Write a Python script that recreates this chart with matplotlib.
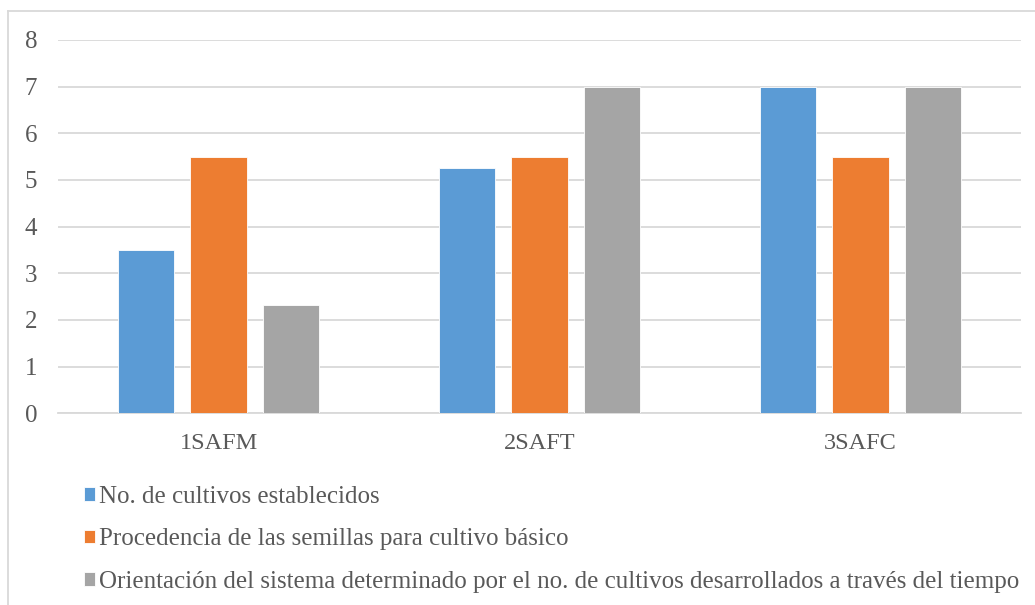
import numpy as np
import matplotlib.pyplot as plt
import matplotlib
from matplotlib.lines import Line2D

DPI = 100
matplotlib.rcParams.update(
    {
        'figure.dpi': DPI,
        'figure.facecolor': 'white',
        'font.family': ['Liberation Serif', 'DejaVu Serif'],
        'font.size': 18,
        'text.color': '#595959',
        'xtick.color': '#595959',
        'ytick.color': '#595959',
    }
)

categories = ['1SAFM', '2SAFT', '3SAFC']
series = ['No. de cultivos establecidos',
          'Procedencia de las semillas para cultivo básico',
          'Orientación del sistema determinado por el no. de cultivos desarrollados a través del tiempo']
cultivos = [3.5, 5.25, 7]
semillas = [5.5, 5.5, 5.5]
orientacion = [2.33, 7, 7]

colors = ['#5B9BD5', '#ED7D31', '#A5A5A5']

fig = plt.figure(figsize=(10.35, 6.05))
ax = fig.add_axes([58 / 1035, 1 - 413.3 / 605, (1021 - 58) / 1035, (413.3 - 40) / 605])

x = np.arange(len(categories))
width = 0.175
offsets = [-0.225, 0, 0.225]
for vals, off, c, name in zip([cultivos, semillas, orientacion], offsets, colors, series):
    ax.bar(x + off, vals, width, color=c, edgecolor='white', linewidth=0.6, label=name, zorder=3)

ax.set_xlim(-0.5, 2.5)
ax.set_ylim(0, 8)
ax.set_yticks(range(0, 9))
ax.yaxis.grid(True, color='#d9d9d9', linewidth=1.3, zorder=0)
for s in ['top', 'right', 'left']:
    ax.spines[s].set_visible(False)
ax.spines['bottom'].set_color('#d9d9d9')
ax.spines['bottom'].set_linewidth(1.3)
ax.set_xticks(x)
ax.set_xticklabels(categories, fontsize=17.5)
ax.tick_params(axis='both', length=0)
ax.tick_params(axis='y', pad=15)
ax.tick_params(axis='x', pad=14)

leg = fig.legend(loc='upper left', bbox_to_anchor=(74 / 1035, 1 - 476 / 605),
                 frameon=False, handlelength=0.45, handleheight=0.45,
                 handletextpad=0.15, labelspacing=0.82, borderaxespad=0)

# chart frame (top and left edges)
fig.add_artist(Line2D([8 / 1035, 8 / 1035], [0, 1 - 11 / 605], transform=fig.transFigure,
                      color='#d9d9d9', linewidth=1.3))
fig.add_artist(Line2D([8 / 1035, 1], [1 - 11 / 605, 1 - 11 / 605], transform=fig.transFigure,
                      color='#d9d9d9', linewidth=1.3))

plt.savefig('out.png', dpi=DPI)
